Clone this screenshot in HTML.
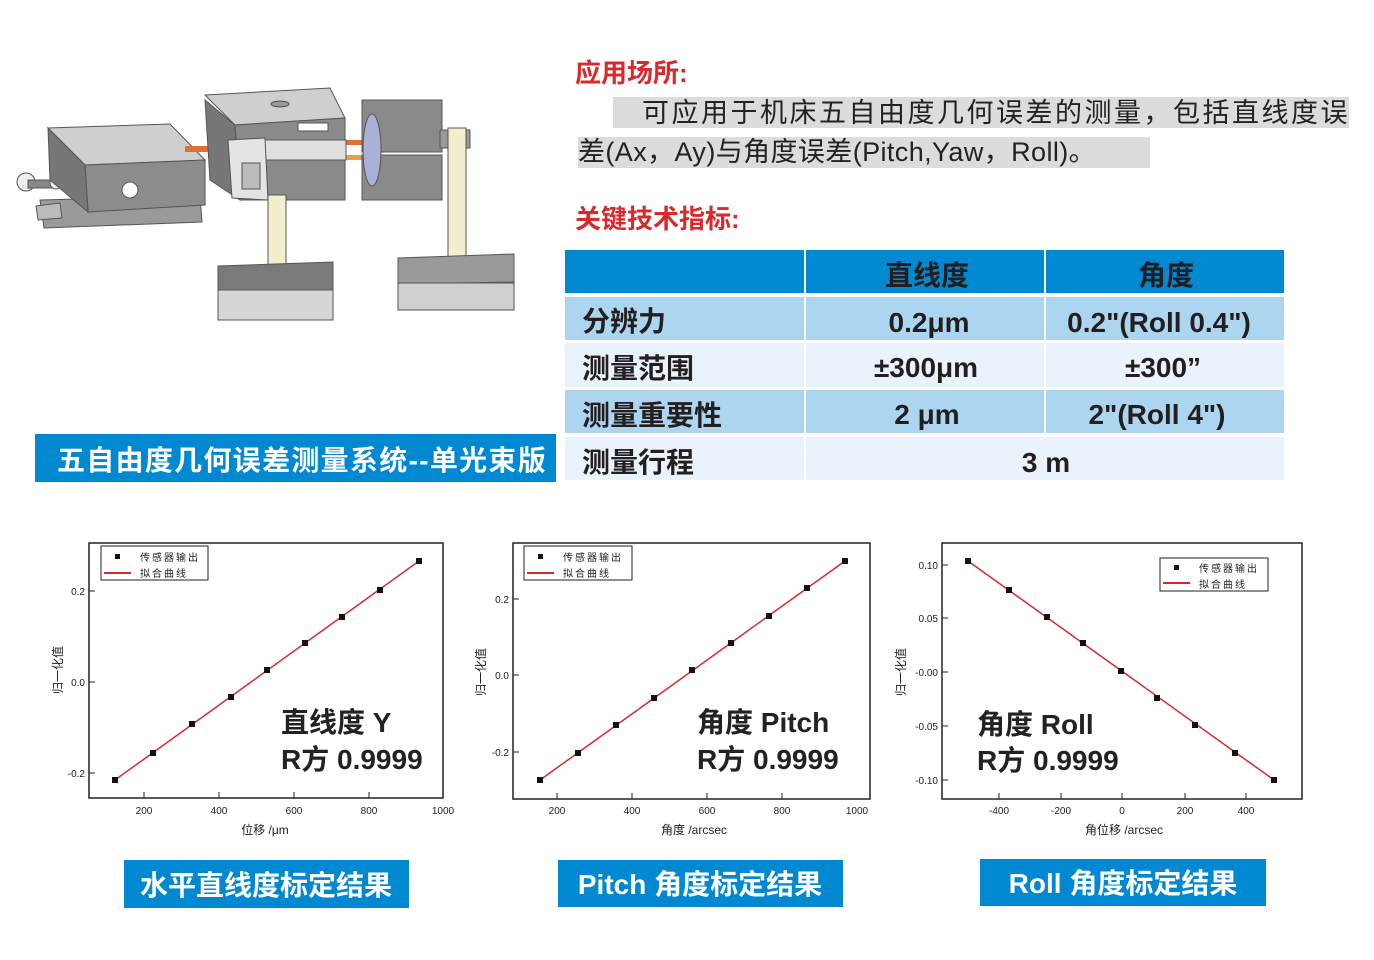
<!DOCTYPE html>
<html><head><meta charset="utf-8"><style>
html,body{margin:0;padding:0;background:#fff}
svg{display:block}
text{font-family:"Liberation Sans","Noto Sans CJK SC",sans-serif}
</style></head><body>
<svg width="1374" height="960" viewBox="0 0 1374 960" xmlns="http://www.w3.org/2000/svg">
<rect width="1374" height="960" fill="#fff"/>
<g stroke="#555" stroke-width="1">
<polygon points="40,200 200,196 202,222 44,228" fill="#9a9a9a"/>
<polygon points="36,206 60,203 62,218 38,220" fill="#bbb"/>
<circle cx="26" cy="182" r="9" fill="#eee"/>
<rect x="28" y="180" width="30" height="8" fill="#888"/>
<circle cx="56" cy="183" r="6" fill="#eee"/>
<polygon points="48,128 170,124 205,160 85,165" fill="#cfcfcf"/>
<polygon points="85,165 205,160 205,205 88,212" fill="#8c8c8c"/>
<polygon points="48,128 85,165 88,212 50,180" fill="#777"/>
<circle cx="130" cy="190" r="8" fill="#fff"/>
<rect x="185" y="146" width="24" height="6" fill="#e07030" stroke="none"/>
<rect x="340" y="140" width="30" height="5" fill="#e07030" stroke="none"/>
<rect x="340" y="155" width="30" height="5" fill="#e8a040" stroke="none"/>
<polygon points="205,95 330,88 345,118 235,125" fill="#cfcfcf"/>
<ellipse cx="280" cy="104" rx="9" ry="3" fill="#999"/>
<polygon points="235,125 345,118 345,200 240,200" fill="#8a8a8a"/>
<rect x="262" y="140" width="84" height="20" fill="#e0e0e0"/>
<rect x="298" y="123" width="30" height="8" fill="#fff"/>
<polygon points="205,100 235,125 240,200 210,180" fill="#777"/>
<polygon points="228,140 265,138 268,200 232,198" fill="#e4e4e4"/>
<rect x="242" y="163" width="18" height="26" fill="#bbb"/>
<rect x="362" y="100" width="80" height="52" fill="#8a8a8a"/>
<rect x="362" y="155" width="80" height="45" fill="#8a8a8a"/>
<ellipse cx="372" cy="150" rx="9" ry="36" fill="#aab0d8"/>
<rect x="440" y="130" width="30" height="18" fill="#999"/>
<rect x="268" y="195" width="18" height="75" fill="#f3eecb"/>
<rect x="448" y="128" width="18" height="138" fill="#f3eecb"/>
<polygon points="218,266 333,262 333,290 218,292" fill="#7a7a7a"/>
<rect x="218" y="290" width="115" height="30" fill="#d6d6d6"/>
<polygon points="398,258 514,254 514,282 398,284" fill="#9a9a9a"/>
<rect x="398" y="283" width="116" height="27" fill="#d0d0d0"/>
</g>
<rect x="35" y="434" width="521" height="48" fill="#0088d0"/>
<text x="302" y="470" font-size="28" font-weight="bold" fill="#fff" text-anchor="middle" letter-spacing="1.3">五自由度几何误差测量系统--单光束版</text>
<text x="575" y="82" font-size="26" font-weight="bold" fill="#d82a2a">应用场所:</text>
<rect x="613" y="97" width="736" height="31" fill="#dcdcdc"/>
<rect x="578" y="137" width="572" height="31" fill="#dcdcdc"/>
<text x="642" y="122" font-size="27" fill="#222" letter-spacing="2.5">可应用于机床五自由度几何误差的测量，包括直线度误</text>
<text x="578" y="161" font-size="27" fill="#222" letter-spacing="0.4">差(Ax，Ay)与角度误差(Pitch,Yaw，Roll)。</text>
<text x="575" y="228" font-size="26" font-weight="bold" fill="#d82a2a">关键技术指标:</text>
<rect x="565" y="250" width="239" height="43" fill="#0088d0"/>
<rect x="806" y="250" width="238" height="43" fill="#0088d0"/>
<rect x="1046" y="250" width="238" height="43" fill="#0088d0"/>
<g fill="#acd5f0"><rect x="565" y="297" width="239" height="43"/><rect x="806" y="297" width="238" height="43"/><rect x="1046" y="297" width="238" height="43"/>
<rect x="565" y="390" width="239" height="43"/><rect x="806" y="390" width="238" height="43"/><rect x="1046" y="390" width="238" height="43"/></g>
<g fill="#eaf3fc"><rect x="565" y="343" width="239" height="44"/><rect x="806" y="343" width="238" height="44"/><rect x="1046" y="343" width="238" height="44"/>
<rect x="565" y="437" width="239" height="43"/><rect x="806" y="437" width="478" height="43"/></g>
<g font-size="28" font-weight="bold" fill="#231f20">
<text x="927" y="285" text-anchor="middle">直线度</text>
<text x="1166" y="285" text-anchor="middle">角度</text>
<text x="582" y="331">分辨力</text>
<text x="929" y="332" text-anchor="middle">0.2μm</text>
<text x="1159" y="332" text-anchor="middle">0.2"(Roll 0.4")</text>
<text x="582" y="378">测量范围</text>
<text x="926" y="377" text-anchor="middle">±300μm</text>
<text x="1163" y="377" text-anchor="middle">±300”</text>
<text x="582" y="425">测量重要性</text>
<text x="927" y="424" text-anchor="middle">2 μm</text>
<text x="1157" y="424" text-anchor="middle">2"(Roll 4")</text>
<text x="582" y="472">测量行程</text>
<text x="1046" y="472" text-anchor="middle">3 m</text>
</g>
<g font-size="10" fill="#222">
<rect x="89" y="543" width="354" height="255" fill="none" stroke="#222" stroke-width="1.5"/>
<g stroke="#222"><line x1="144" y1="798" x2="144" y2="792"/><line x1="219" y1="798" x2="219" y2="792"/><line x1="294" y1="798" x2="294" y2="792"/><line x1="369" y1="798" x2="369" y2="792"/>
<line x1="89" y1="591" x2="95" y2="591"/><line x1="89" y1="682" x2="95" y2="682"/><line x1="89" y1="773" x2="95" y2="773"/></g>
<text x="144" y="814" text-anchor="middle">200</text><text x="219" y="814" text-anchor="middle">400</text><text x="294" y="814" text-anchor="middle">600</text><text x="369" y="814" text-anchor="middle">800</text><text x="443" y="814" text-anchor="middle">1000</text>
<text x="85" y="595" text-anchor="end">0.2</text><text x="85" y="686" text-anchor="end">0.0</text><text x="85" y="777" text-anchor="end">-0.2</text>
<text x="265" y="834" text-anchor="middle" font-size="12">位移 /μm</text>
<text transform="translate(62,670) rotate(-90)" text-anchor="middle" font-size="12">归一化值</text>
<line x1="115" y1="780" x2="419" y2="561" stroke="#d82a2a" stroke-width="1.5"/>
<g fill="#111"><rect x="112" y="777" width="6" height="6"/><rect x="150" y="750" width="6" height="6"/><rect x="189" y="721" width="6" height="6"/><rect x="228" y="694" width="6" height="6"/><rect x="264" y="667" width="6" height="6"/><rect x="302" y="640" width="6" height="6"/><rect x="339" y="614" width="6" height="6"/><rect x="377" y="587" width="6" height="6"/><rect x="416" y="558" width="6" height="6"/></g>
<rect x="101" y="546" width="107" height="34" fill="#fff" stroke="#222"/>
<rect x="115" y="554" width="5" height="5" fill="#111"/><line x1="104" y1="573" x2="131" y2="573" stroke="#d82a2a" stroke-width="2"/>
<text x="140" y="561" letter-spacing="2">传感器输出</text><text x="140" y="577" letter-spacing="2">拟合曲线</text>
<text x="281" y="732" font-size="28" font-weight="bold">直线度 Y</text>
<text x="281" y="769" font-size="28" font-weight="bold">R方 0.9999</text>
</g>
<g font-size="10" fill="#222">
<rect x="513" y="543" width="357" height="256" fill="none" stroke="#222" stroke-width="1.5"/>
<g stroke="#222"><line x1="557" y1="799" x2="557" y2="793"/><line x1="632" y1="799" x2="632" y2="793"/><line x1="707" y1="799" x2="707" y2="793"/><line x1="782" y1="799" x2="782" y2="793"/>
<line x1="513" y1="599" x2="519" y2="599"/><line x1="513" y1="675" x2="519" y2="675"/><line x1="513" y1="752" x2="519" y2="752"/></g>
<text x="557" y="814" text-anchor="middle">200</text><text x="632" y="814" text-anchor="middle">400</text><text x="707" y="814" text-anchor="middle">600</text><text x="782" y="814" text-anchor="middle">800</text><text x="857" y="814" text-anchor="middle">1000</text>
<text x="509" y="603" text-anchor="end">0.2</text><text x="509" y="679" text-anchor="end">0.0</text><text x="509" y="756" text-anchor="end">-0.2</text>
<text x="694" y="834" text-anchor="middle" font-size="12">角度 /arcsec</text>
<text transform="translate(485,672) rotate(-90)" text-anchor="middle" font-size="12">归一化值</text>
<line x1="540" y1="780" x2="845" y2="561" stroke="#d82a2a" stroke-width="1.5"/>
<g fill="#111"><rect x="537" y="777" width="6" height="6"/><rect x="575" y="750" width="6" height="6"/><rect x="613" y="722" width="6" height="6"/><rect x="651" y="695" width="6" height="6"/><rect x="689" y="667" width="6" height="6"/><rect x="728" y="640" width="6" height="6"/><rect x="766" y="613" width="6" height="6"/><rect x="804" y="585" width="6" height="6"/><rect x="842" y="558" width="6" height="6"/></g>
<rect x="524" y="546" width="108" height="34" fill="#fff" stroke="#222"/>
<rect x="538" y="554" width="5" height="5" fill="#111"/><line x1="527" y1="573" x2="554" y2="573" stroke="#d82a2a" stroke-width="2"/>
<text x="563" y="561" letter-spacing="2">传感器输出</text><text x="563" y="577" letter-spacing="2">拟合曲线</text>
<text x="697" y="732" font-size="28" font-weight="bold">角度 Pitch</text>
<text x="697" y="769" font-size="28" font-weight="bold">R方 0.9999</text>
</g>
<g font-size="10" fill="#222">
<rect x="942" y="543" width="360" height="256" fill="none" stroke="#222" stroke-width="1.5"/>
<g stroke="#222"><line x1="999" y1="799" x2="999" y2="793"/><line x1="1061" y1="799" x2="1061" y2="793"/><line x1="1122" y1="799" x2="1122" y2="793"/><line x1="1185" y1="799" x2="1185" y2="793"/><line x1="1246" y1="799" x2="1246" y2="793"/>
<line x1="942" y1="565" x2="948" y2="565"/><line x1="942" y1="618" x2="948" y2="618"/><line x1="942" y1="672" x2="948" y2="672"/><line x1="942" y1="726" x2="948" y2="726"/><line x1="942" y1="780" x2="948" y2="780"/></g>
<text x="999" y="814" text-anchor="middle">-400</text><text x="1061" y="814" text-anchor="middle">-200</text><text x="1122" y="814" text-anchor="middle">0</text><text x="1185" y="814" text-anchor="middle">200</text><text x="1246" y="814" text-anchor="middle">400</text>
<text x="938" y="569" text-anchor="end">0.10</text><text x="938" y="622" text-anchor="end">0.05</text><text x="938" y="676" text-anchor="end">-0.00</text><text x="938" y="730" text-anchor="end">-0.05</text><text x="938" y="784" text-anchor="end">-0.10</text>
<text x="1124" y="834" text-anchor="middle" font-size="12">角位移 /arcsec</text>
<text transform="translate(905,672) rotate(-90)" text-anchor="middle" font-size="12">归一化值</text>
<line x1="968" y1="561" x2="1274" y2="780" stroke="#d82a2a" stroke-width="1.5"/>
<g fill="#111"><rect x="965" y="558" width="6" height="6"/><rect x="1006" y="587" width="6" height="6"/><rect x="1044" y="614" width="6" height="6"/><rect x="1080" y="640" width="6" height="6"/><rect x="1118" y="668" width="6" height="6"/><rect x="1154" y="695" width="6" height="6"/><rect x="1192" y="722" width="6" height="6"/><rect x="1232" y="750" width="6" height="6"/><rect x="1271" y="777" width="6" height="6"/></g>
<rect x="1160" y="558" width="108" height="33" fill="#fff" stroke="#222"/>
<rect x="1174" y="565" width="5" height="5" fill="#111"/><line x1="1163" y1="583" x2="1190" y2="583" stroke="#d82a2a" stroke-width="2"/>
<text x="1199" y="572" letter-spacing="2">传感器输出</text><text x="1199" y="588" letter-spacing="2">拟合曲线</text>
<text x="977" y="734" font-size="28" font-weight="bold">角度 Roll</text>
<text x="977" y="770" font-size="28" font-weight="bold">R方 0.9999</text>
</g>
<rect x="124" y="860" width="285" height="48" fill="#0088d0"/>
<text x="266" y="895" font-size="28" font-weight="bold" fill="#fff" text-anchor="middle">水平直线度标定结果</text>
<rect x="558" y="860" width="285" height="47" fill="#0088d0"/>
<text x="700" y="894" font-size="28" font-weight="bold" fill="#fff" text-anchor="middle">Pitch 角度标定结果</text>
<rect x="980" y="859" width="286" height="47" fill="#0088d0"/>
<text x="1123" y="893" font-size="28" font-weight="bold" fill="#fff" text-anchor="middle">Roll 角度标定结果</text>
</svg>
</body></html>
